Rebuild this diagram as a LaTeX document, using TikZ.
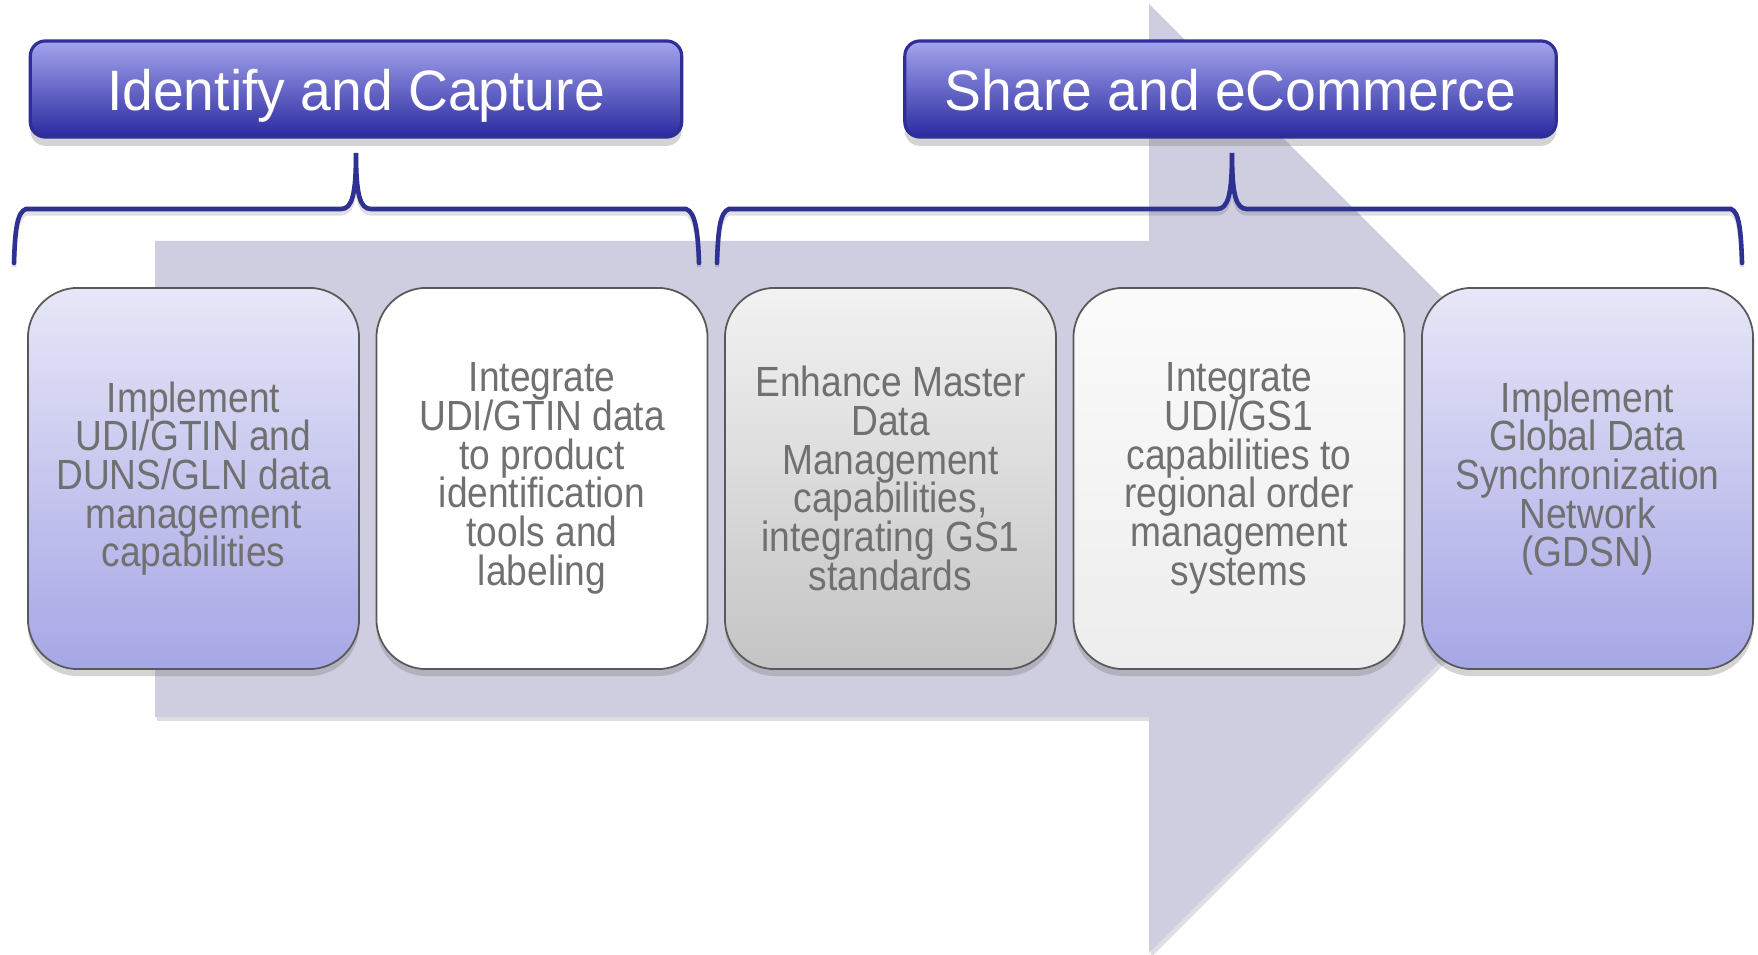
\documentclass[tikz,border=0pt]{standalone}
\usepackage{fontspec}
\setmainfont{Liberation Sans}
\newfontfamily\boxfont[FakeStretch=0.88]{Liberation Sans}
\newfontfamily\titlefont[FakeStretch=0.97]{Liberation Sans}
\usetikzlibrary{shadows}
\definecolor{arrowc}{HTML}{CECEE0}
\definecolor{bracec}{HTML}{2E3192}
\definecolor{boxtext}{HTML}{707070}
\definecolor{tTop}{HTML}{A4A4EE}
\definecolor{tMid}{HTML}{7272D0}
\definecolor{tBot}{HTML}{2A2AA0}
\definecolor{tBorder}{HTML}{2E2E96}
\definecolor{lavTop}{HTML}{E7E7F8}
\definecolor{lavBot}{HTML}{A6A6E6}
\definecolor{grTop}{HTML}{F2F2F2}
\definecolor{grBot}{HTML}{C4C4C4}
\definecolor{ltTop}{HTML}{FBFBFB}
\definecolor{ltBot}{HTML}{EDEDED}
\lineskiplimit=-100pt
\begin{document}
\begin{tikzpicture}[x=0.01cm,y=-0.01cm,
  titlebox/.style={rectangle, rounded corners=0.15cm, draw=tBorder, line width=0.9pt,
    top color=tTop, middle color=tMid, bottom color=tBot,
    minimum width=6.51cm, minimum height=0.96cm, inner sep=0pt,
    text height=0.42cm, text depth=0cm, text=white,
    font=\titlefont\fontsize{16.2}{18}\selectfont,
    drop shadow={shadow xshift=0pt, shadow yshift=-2.5pt, opacity=0.35}},
  stepbox/.style={rectangle, rounded corners=0.5cm, draw=black!65, line width=0.5pt,
    minimum width=3.31cm, minimum height=3.81cm, inner sep=0pt, align=center,
    text=boxtext, font=\boxfont\fontsize{12}{11}\selectfont,
    drop shadow={shadow xshift=0pt, shadow yshift=-2pt, opacity=0.35}},
  lav/.style={top color=lavTop, bottom color=lavBot},
  grey/.style={top color=grTop, bottom color=grBot},
  light/.style={top color=ltTop, bottom color=ltBot},
  plain/.style={fill=white},
  bracestyle/.style={draw=bracec, line width=1.3pt, line cap=round,
    preaction={draw=black, opacity=0.12, line width=1.3pt, transform canvas={yshift=-1.2pt}}}
]
\useasboundingbox (0,0) rectangle (1758,955);
% big arrow
\fill[arrowc, drop shadow={shadow xshift=0.6pt, shadow yshift=-1.2pt, opacity=0.25}]
  (155,241) -- (1149,241) -- (1149,4) -- (1623.5,478.5) -- (1149,953) -- (1149,717) -- (155,717) -- cycle;
% title boxes
\node[titlebox] (t1) at (356,89) {Identify and Capture};
\node[titlebox] (t2) at (1230.5,89) {Share and eCommerce};
% braces
\coordinate (b1l) at (14,263);
\coordinate (b1tip) at (356,153);
\coordinate (b1r) at (699,263);
\coordinate (b2l) at (717,263);
\coordinate (b2tip) at (1232,153);
\coordinate (b2r) at (1742,263);
\path[bracestyle] (b1l) .. controls (15,230) and (17,212) .. (26,209) -- (341,209)
  .. controls (352,209) and (356,195) .. (b1tip)
  .. controls (356,195) and (360,209) .. (371,209) -- (686,209)
  .. controls (695,212) and (698,230) .. (b1r);
\path[bracestyle] (b2l) .. controls (718,230) and (720,212) .. (729,209) -- (1217,209)
  .. controls (1228,209) and (1232,195) .. (b2tip)
  .. controls (1232,195) and (1236,209) .. (1247,209) -- (1731,209)
  .. controls (1739,212) and (1741,230) .. (b2r);
% step boxes
\node[stepbox, lav] (s1) at (193.5,478.5) {Implement\\UDI/GTIN and\\DUNS/GLN data\\management\\capabilities};
\node[stepbox, plain] (s2) at (542,478.5) {Integrate\\UDI/GTIN data\\to product\\identification\\tools and\\labeling};
\node[stepbox, grey] (s3) at (890.5,478.5) {Enhance Master\\Data\\Management\\capabilities,\\integrating GS1\\standards};
\node[stepbox, light] (s4) at (1239,478.5) {Integrate\\UDI/GS1\\capabilities to\\regional order\\management\\systems};
\node[stepbox, lav] (s5) at (1587.5,478.5) {Implement\\Global Data\\Synchronization\\Network\\(GDSN)};
\end{tikzpicture}
\end{document}
